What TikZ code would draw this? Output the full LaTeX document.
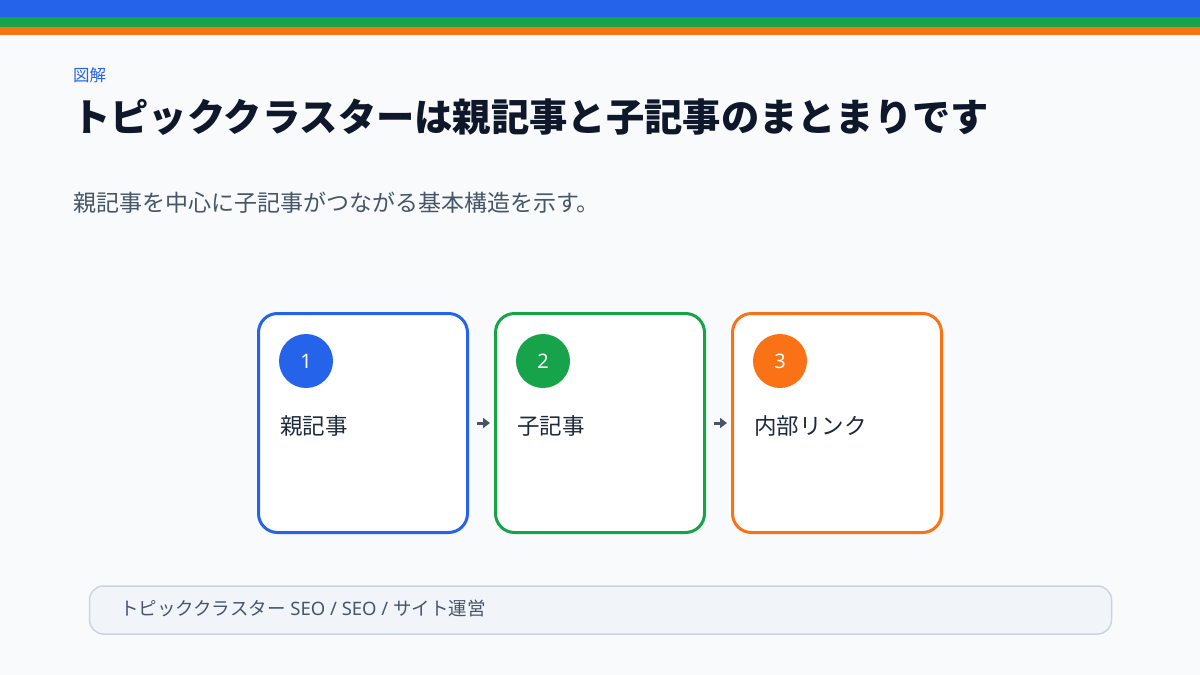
\documentclass[tikz,border=0pt]{standalone}
\usepackage{fontspec}
\setmainfont{Noto Sans CJK JP}
\newfontfamily\latinfont{Noto Sans}
\usetikzlibrary{arrows.meta}
\definecolor{pageBg}{HTML}{F8FAFC}
\definecolor{blueA}{HTML}{2563EB}
\definecolor{greenA}{HTML}{16A34A}
\definecolor{orangeA}{HTML}{F97316}
\definecolor{inkDark}{HTML}{0F172A}
\definecolor{inkMid}{HTML}{1E293B}
\definecolor{inkGray}{HTML}{475569}
\definecolor{barFill}{HTML}{F1F5F9}
\definecolor{barLine}{HTML}{CBD5E1}

\begin{document}
\begin{tikzpicture}
[x=1pt,y=-1pt,%
  boxDecorate/.style={shape=rectangle,rounded corners=19pt,draw,line width=3pt,fill=white,minimum width=209pt,minimum height=219pt},%
  circleDecorate/.style={shape=circle,inner sep=0pt,minimum size=54pt,text=white,font=\latinfont\fontsize{20}{24}\selectfont},%
  labelDecorate/.style={anchor=west,inner sep=0pt,text=inkMid,font=\fontsize{22.5}{26}\selectfont},%
  arrowDecorate/.style={-{Triangle[length=7pt,width=10pt]},line width=3pt,draw=inkGray,shorten <=8pt,shorten >=4pt}]
\useasboundingbox (0,0) rectangle (1200,675);
%% background and top bars
\fill[pageBg] (0,0) rectangle (1200,675);
\fill[blueA] (0,0) rectangle (1200,17);
\fill[greenA] (0,17) rectangle (1200,27);
\fill[orangeA] (0,27) rectangle (1200,35);
%% heading
\node (kicker) at (73,75) [anchor=west,inner sep=0pt,text=blueA,font=\fontsize{16.5}{18}\selectfont] {図解};
\node (title) at (72,117) [anchor=west,inner sep=0pt,text=inkDark,font=\fontsize{38.3}{42}\selectfont\bfseries] {トピッククラスターは親記事と子記事のまとまりです};
\node (subtitle) at (73,203) [anchor=west,inner sep=0pt,text=inkGray,font=\fontsize{23}{26}\selectfont] {親記事を中心に子記事がつながる基本構造を示す。};
%% boxes
\foreach \n/\x/\col/\txt in {1/363/blueA/親記事, 2/600/greenA/子記事, 3/837/orangeA/内部リンク}
{
  \node (box\n) at (\x,423) [boxDecorate,draw=\col] {};
  \node (num\n) at (\x-57,361) [circleDecorate,fill=\col] {\n};
  \node (lab\n) at (\x-83,426) [labelDecorate] {\txt};
}
%% arrows
\foreach \a/\b in {1/2, 2/3}
{
  \draw[arrowDecorate] (box\a.east) -- (box\b.west);
}
%% footer
\node (footer) at (600.5,610) [shape=rectangle,rounded corners=14pt,draw=barLine,line width=1.5pt,fill=barFill,minimum width=1022pt,minimum height=48pt] {};
\node (tags) at (120,608) [anchor=west,inner sep=0pt,text=inkGray,font=\fontsize{18.5}{21}\selectfont] {トピッククラスター{\latinfont\ SEO / SEO / }サイト運営};
\end{tikzpicture}
\end{document}
